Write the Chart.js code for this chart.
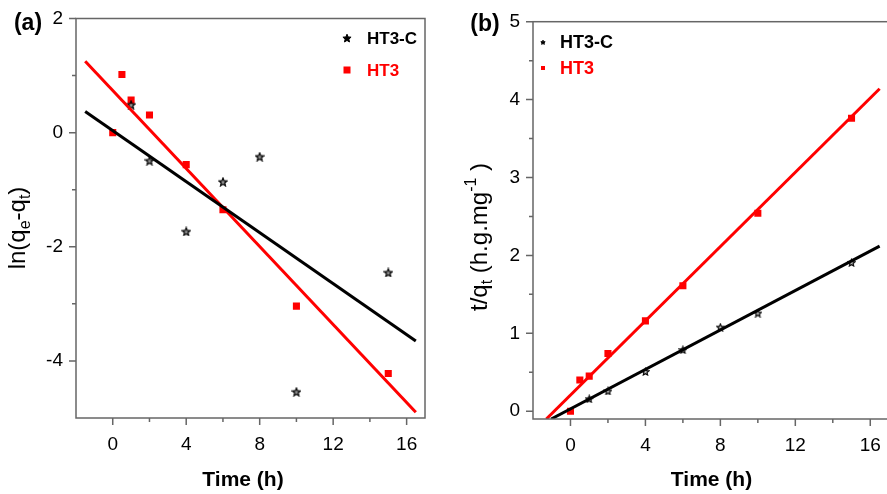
<!DOCTYPE html>
<html><head><meta charset="utf-8">
<script src="https://cdn.jsdelivr.net/npm/chart.js@4"></script>
<style>
html,body{margin:0;padding:0;background:#fff;overflow:hidden;width:887px;height:494px}
#ca{position:absolute;left:0;top:0}
#cb{position:absolute;left:443px;top:0}
</style></head><body>
<canvas id="ca" width="443" height="494"></canvas>
<canvas id="cb" width="452" height="494"></canvas>
<script>
// ---- data: panel (a) ----
const timeA_HT3C = [1, 2, 4, 6, 8, 10, 15];
const lnA_HT3C   = [0.49, -0.49, -1.73, -0.86, -0.42, -4.54, -2.45];
const timeA_HT3  = [0, 0.5, 1, 2, 4, 6, 10, 15];
const lnA_HT3    = [0, 1.02, 0.57, 0.31, -0.56, -1.35, -3.04, -4.22];
const fitA_x      = [-1.5, 16.5];
const fitA_HT3C_y = [0.37, -3.65];
const fitA_HT3_y  = [1.25, -4.9];

// ---- data: panel (b) ----
const timeB_HT3C = [1, 2, 4, 6, 8, 10, 15];
const tqB_HT3C   = [0.16, 0.26, 0.51, 0.79, 1.08, 1.26, 1.91];
const timeB_HT3  = [0, 0.5, 1, 2, 4, 6, 10, 15];
const tqB_HT3    = [0, 0.40, 0.45, 0.74, 1.16, 1.61, 2.54, 3.76];
const fitB_HT3C_x = [-1.03, 16.5];
const fitB_HT3C_y = [-0.1, 2.12];
const fitB_HT3_x  = [-1.29, 16.5];
const fitB_HT3_y  = [-0.1, 4.14];

// ---- ticks ----
const xTicks  = [0, 4, 8, 12, 16];
const xMinor  = [2, 6, 10, 14];
const yTicksA = [-4, -2, 0, 2];
const yMinorA = [-3, -1, 1];
const yTicksB = [0, 1, 2, 3, 4, 5];
const yMinorB = [0.5, 1.5, 2.5, 3.5, 4.5];

const FAM = "'Liberation Sans', Arial, sans-serif";
const pts = (xs, ys) => xs.map((x, i) => ({x: x, y: ys[i]}));

function starImg(size, fill, lw) {
  const c = document.createElement('canvas');
  c.width = size; c.height = size;
  const g = c.getContext('2d');
  const R = size / 2 - lw / 2 - 0.2, r = R * 0.45, cx = size / 2, cy = size / 2 + 0.5;
  g.beginPath();
  for (let i = 0; i < 10; i++) {
    const rad = i % 2 ? r : R;
    const ang = -Math.PI / 2 + i * Math.PI / 5;
    const px = cx + rad * Math.cos(ang), py = cy + rad * Math.sin(ang);
    i ? g.lineTo(px, py) : g.moveTo(px, py);
  }
  g.closePath();
  g.fillStyle = fill; g.fill();
  g.strokeStyle = '#000'; g.lineWidth = lw; g.stroke();
  return c;
}
const starA = starImg(10, 'rgba(0,0,0,0.45)', 1.2);
const starB = starImg(9, 'rgba(0,0,0,0.25)', 1.1);

function drawRuns(ctx, runs, cx, cy, rot, weight) {
  let w = 0;
  runs.forEach(r => { ctx.font = `${weight} ${r.s}px ${FAM}`; r.w = ctx.measureText(r.t).width; w += r.w; });
  ctx.save();
  ctx.translate(cx, cy);
  if (rot) ctx.rotate(rot);
  ctx.textBaseline = 'alphabetic';
  ctx.textAlign = 'left';
  let x = -w / 2;
  const base = runs[0].s * 0.3;
  runs.forEach(r => {
    ctx.font = `${weight} ${r.s}px ${FAM}`;
    ctx.fillText(r.t, x, base + (r.dy || 0));
    x += r.w;
  });
  ctx.restore();
}

const decor = {
  id: 'decor',
  afterDraw(chart, args, o) {
    const ctx = chart.ctx, a = chart.chartArea, xs = chart.scales.x, ys = chart.scales.y;
    ctx.save();
    ctx.strokeStyle = '#666'; ctx.lineWidth = 1.5;
    ctx.strokeRect(a.left, a.top, a.right - a.left, a.bottom - a.top);
    ctx.beginPath();
    xTicks.forEach(v => { const p = xs.getPixelForValue(v); ctx.moveTo(p, a.bottom); ctx.lineTo(p, a.bottom + 7); });
    xMinor.forEach(v => { const p = xs.getPixelForValue(v); ctx.moveTo(p, a.bottom); ctx.lineTo(p, a.bottom + 4); });
    o.yMajor.forEach(v => { const p = ys.getPixelForValue(v); ctx.moveTo(a.left, p); ctx.lineTo(a.left - 7, p); });
    o.yMinor.forEach(v => { const p = ys.getPixelForValue(v); ctx.moveTo(a.left, p); ctx.lineTo(a.left - 4, p); });
    ctx.stroke();

    ctx.fillStyle = '#000';
    ctx.font = `bold 23px ${FAM}`; ctx.textAlign = 'center'; ctx.textBaseline = 'middle';
    ctx.fillText(o.panel, o.panelX, o.panelY);
    drawRuns(ctx, [{t: 'Time (h)', s: 21}], o.xtX, o.xtY, 0, 'bold');
    drawRuns(ctx, o.yRuns, o.ytX, o.ytY, -Math.PI / 2, 'normal');
    const L = o.legend;
    ctx.drawImage(L.star, L.mx - L.star.width / 2, L.y1 - L.star.height / 2);
    ctx.fillStyle = '#ff0000';
    ctx.fillRect(L.mx - L.sq / 2, L.y2 - L.sq / 2, L.sq, L.sq);
    ctx.font = `bold ${L.fs}px ${FAM}`; ctx.textAlign = 'left'; ctx.textBaseline = 'middle';
    ctx.fillStyle = '#000'; ctx.fillText('HT3-C', L.tx, L.y1 + 1);
    ctx.fillStyle = '#ff0000'; ctx.fillText('HT3', L.tx, L.y2 + 1);
    ctx.restore();
  }
};

function zeroPad(s) { s.paddingTop = 0; s.paddingBottom = 0; s.paddingLeft = 0; s.paddingRight = 0; }

function axis(min, max, ticksArr, fitFn) {
  return {
    type: 'linear', min: min, max: max,
    afterBuildTicks: s => { s.ticks = ticksArr.map(v => ({value: v})); },
    afterFit: s => { fitFn(s); zeroPad(s); },
    grid: {display: false, drawTicks: false},
    border: {display: false},
    title: {display: false},
    ticks: {font: {family: FAM, size: 19}, color: '#000', autoSkip: false, maxRotation: 0}
  };
}

function makeChart(id, cfg) {
  const xA = axis(-2, 17, xTicks, s => { s.height = cfg.xh; });
  xA.ticks.padding = 15;
  const yA = axis(cfg.ymin, cfg.ymax, cfg.yTicks, s => { s.width = cfg.yw; });
  yA.ticks.padding = 13;
  return new Chart(document.getElementById(id), {
    type: 'scatter',
    data: {datasets: [
      {label: 'HT3-C', data: cfg.c, pointStyle: cfg.star, pointRadius: 5, order: 3},
      {label: 'HT3', data: cfg.h, pointStyle: 'rect', pointRadius: 5, backgroundColor: '#ff0000', borderWidth: 0, order: 3},
      {label: 'HT3 fit', data: cfg.hf, showLine: true, pointRadius: 0, borderColor: '#ff0000', borderWidth: 3, order: 2},
      {label: 'HT3-C fit', data: cfg.cf, showLine: true, pointRadius: 0, borderColor: '#000000', borderWidth: 3, order: 1}
    ]},
    options: {
      responsive: false, animation: false, devicePixelRatio: 1,
      layout: {padding: cfg.pad},
      scales: {x: xA, y: yA},
      plugins: {legend: {display: false}, tooltip: {enabled: false}, decor: cfg.decor}
    },
    plugins: [decor]
  });
}

makeChart('ca', {
  c: pts(timeA_HT3C, lnA_HT3C), h: pts(timeA_HT3, lnA_HT3),
  cf: pts(fitA_x, fitA_HT3C_y), hf: pts(fitA_x, fitA_HT3_y),
  star: starA, ymin: -5, ymax: 2, yTicks: yTicksA,
  xh: 76, yw: 76, pad: {top: 18.5, right: 18, left: 0, bottom: 0},
  decor: {
    panel: '(a)', panelX: 28, panelY: 24, xtX: 243, xtY: 480,
    ytX: 18, ytY: 228, yMajor: yTicksA, yMinor: yMinorA,
    yRuns: [{t: 'ln(q', s: 24}, {t: 'e', s: 16, dy: 5}, {t: '-q', s: 24}, {t: 't', s: 16, dy: 5}, {t: ')', s: 24}],
    legend: {star: starImg(10, '#000', 1), sq: 7, mx: 347, y1: 38, y2: 70, tx: 367, fs: 17}
  }
});

makeChart('cb', {
  c: pts(timeB_HT3C, tqB_HT3C), h: pts(timeB_HT3, tqB_HT3),
  cf: pts(fitB_HT3C_x, fitB_HT3C_y), hf: pts(fitB_HT3_x, fitB_HT3_y),
  star: starB, ymin: -0.1, ymax: 5, yTicks: yTicksB,
  xh: 75, yw: 90, pad: {top: 21.7, right: 2, left: 0, bottom: 0},
  decor: {
    panel: '(b)', panelX: 42, panelY: 25, xtX: 268.5, xtY: 480,
    ytX: 37, ytY: 237, yMajor: yTicksB, yMinor: yMinorB,
    yRuns: [{t: 't/q', s: 24}, {t: 't', s: 16, dy: 5}, {t: ' (h.g.mg', s: 24}, {t: '-1', s: 16, dy: -11}, {t: ' )', s: 24}],
    legend: {star: starImg(6, '#000', 1), sq: 4, mx: 100, y1: 42, y2: 68, tx: 117, fs: 18}
  }
});
</script>
</body></html>
